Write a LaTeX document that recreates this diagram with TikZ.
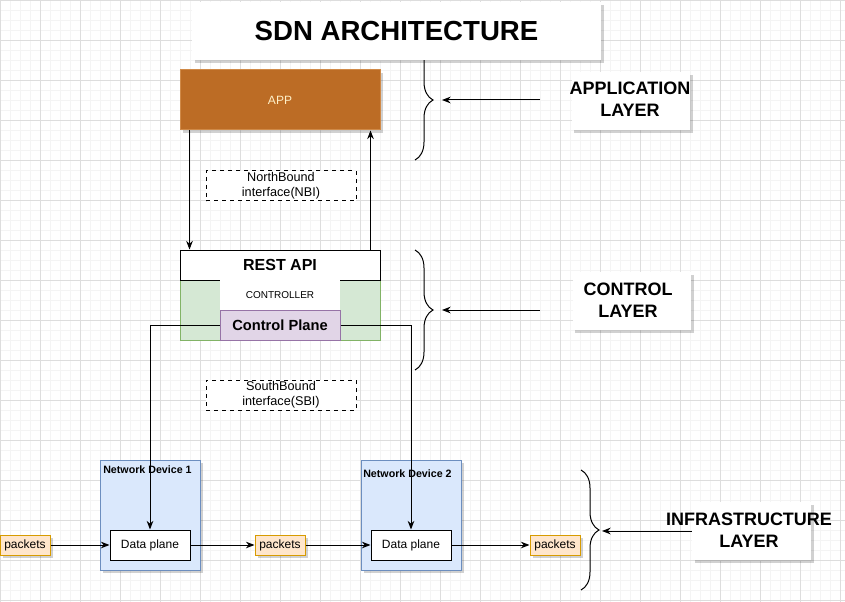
\documentclass[tikz,border=0pt]{standalone}
\usepackage{fontspec}
\setmainfont{Liberation Sans}
\usepackage{xcolor}
\usetikzlibrary{arrows.meta,positioning,shadows,decorations.pathreplacing}

\definecolor{appfill}{HTML}{BC6C25}
\definecolor{appline}{HTML}{D08A48}
\definecolor{apptext}{HTML}{FFF0C8}
\definecolor{ctlfill}{HTML}{D5E8D4}
\definecolor{ctlline}{HTML}{82B366}
\definecolor{cpfill}{HTML}{E1D5E7}
\definecolor{cpline}{HTML}{9673A6}
\definecolor{devfill}{HTML}{DAE8FC}
\definecolor{devline}{HTML}{6C8EBF}
\definecolor{pktfill}{HTML}{FFE6CC}
\definecolor{pktline}{HTML}{D79B00}
\definecolor{gridminor}{HTML}{F4F4F4}
\definecolor{gridmajor}{HTML}{DDDDDD}

\begin{document}
\begin{tikzpicture}[
    x=0.75pt, y=-0.75pt,
    box/.style={rectangle, draw, line width=0.75pt, inner sep=0pt, align=center},
    shade/.style={drop shadow={shadow xshift=2pt, shadow yshift=-2pt, opacity=0.18, fill=black}},
    layerbox/.style={rectangle, fill=white, shade, inner sep=0pt,
        minimum width=89pt, minimum height=43.5pt},
    layertext/.style={inner sep=0pt, align=center, font=\fontsize{13.5}{16.5}\selectfont\bfseries},
    ifbox/.style={box, dashed, fill=white, minimum width=112.5pt, minimum height=22.5pt,
        font=\fontsize{9.5}{11.5}\selectfont},
    devbox/.style={box, draw=devline, fill=devfill, shade, minimum width=75pt, minimum height=82.5pt},
    dpbox/.style={box, fill=white, minimum width=60pt, minimum height=22.5pt, font=\fontsize{9}{11}\selectfont},
    pktbox/.style={box, draw=pktline, fill=pktfill, shade, minimum width=37.5pt, minimum height=15pt,
        font=\fontsize{9}{11}\selectfont},
    devlabel/.style={anchor=west, inner sep=0pt, font=\fontsize{8}{10}\selectfont\bfseries},
    arrow/.style={-{Stealth[length=6.5pt,width=5pt]}, line width=0.75pt},
    brace/.style={decorate, decoration={brace, amplitude=13.5pt}, line width=0.75pt}
]
    \useasboundingbox (0,0) rectangle (845,602);
    \fill[white] (0,0) rectangle (845,602);
    % grid
    \foreach \g in {0,10,...,840} \draw[gridminor, line width=0.5pt] (\g,0) -- (\g,602);
    \foreach \g in {0,10,...,600} \draw[gridminor, line width=0.5pt] (0,\g) -- (845,\g);
    \foreach \g in {0,40,...,840} \draw[gridmajor, line width=0.5pt] (\g,0) -- (\g,602);
    \foreach \g in {0,40,...,600} \draw[gridmajor, line width=0.5pt] (0,\g) -- (845,\g);

    % braces
    \draw[brace] (415,40) -- (415,160);
    \draw[brace] (415,250) -- (415,370);
    \draw[brace] (581,470) -- (581,590);

    \node[rectangle, fill=white, shade, minimum width=306.75pt, minimum height=43.5pt,
        font=\fontsize{20.7}{24}\selectfont\bfseries] (title) at (396.5,31) {SDN ARCHITECTURE};

    % application layer
    \node[box, draw=appline, fill=appfill, shade, minimum width=150pt, minimum height=45pt,
        text=apptext, font=\fontsize{9}{11}\selectfont] (app) at (280,100) {APP};
    \node[layerbox] (applayer) at (631,101) {};
    \node[layertext] (applabel) at (630,99) {APPLICATION\\LAYER};
    \node[ifbox] (nbi) at (281,186) {NorthBound\\interface(NBI)};

    % control layer
    \node[box, draw=ctlline, fill=ctlfill, minimum width=150pt, minimum height=67.5pt] (ctl) at (280,295) {};
    \node[box, fill=white, minimum width=150pt, minimum height=22.5pt,
        font=\fontsize{12}{14}\selectfont\bfseries] (rest) at (280,265) {REST API};
    \node[rectangle, fill=white, inner sep=0pt, minimum width=90pt, minimum height=22.5pt,
        font=\fontsize{7.5}{9}\selectfont] (ctlname) at (280,295) {CONTROLLER};
    \node[box, draw=cpline, fill=cpfill, minimum width=90pt, minimum height=22.5pt,
        font=\fontsize{11}{13}\selectfont\bfseries] (cp) at (280,325) {Control Plane};
    \node[layerbox] (ctllayer) at (632,301) {};
    \node[layertext] (ctllabel) at (628,300) {CONTROL\\LAYER};
    \node[ifbox] (sbi) at (281,395) {SouthBound\\interface(SBI)};

    % infrastructure layer
    \node[devbox] (dev1) at (150,515) {};
    \node[devbox] (dev2) at (411,515) {};
    \node[devlabel] (dev1name) at (103,470) {Network Device 1};
    \node[devlabel] (dev2name) at (363,474) {Network Device 2};
    \node[dpbox] (dp1) at (150,545) {Data plane};
    \node[dpbox] (dp2) at (411,545) {Data plane};
    \node[pktbox] (pk1) at (25,545) {packets};
    \node[pktbox] (pk2) at (280,545) {packets};
    \node[pktbox] (pk3) at (555,545) {packets};
    \node[layerbox] (infralayer) at (751.5,531) {};
    \node[layertext] (infralabel) at (749,530) {INFRASTRUCTURE\\LAYER};

    \coordinate (appfrom) at (540,100);
    \coordinate (apptip) at (442,100);
    \coordinate (ctlfrom) at (540,310);
    \coordinate (ctltip) at (442,310);
    \coordinate (infratip) at (602,531);

    \draw[arrow] ([xshift=7.5pt]app.south west) -- ([xshift=7.5pt]rest.north west);
    \draw[arrow] ([xshift=-7.5pt]rest.north east) -- ([xshift=-7.5pt]app.south east);
    \draw[arrow] (cp.west) -| (dp1.north);
    \draw[arrow] (cp.east) -| (dp2.north);
    \draw[arrow] (pk1) -- (dp1);
    \draw[arrow] (dp1) -- (pk2);
    \draw[arrow] (pk2) -- (dp2);
    \draw[arrow] (dp2) -- (pk3);
    \draw[arrow] (appfrom) -- (apptip);
    \draw[arrow] (ctlfrom) -- (ctltip);
    \draw[arrow] (infralayer.west) -- (infratip);
\end{tikzpicture}
\end{document}
